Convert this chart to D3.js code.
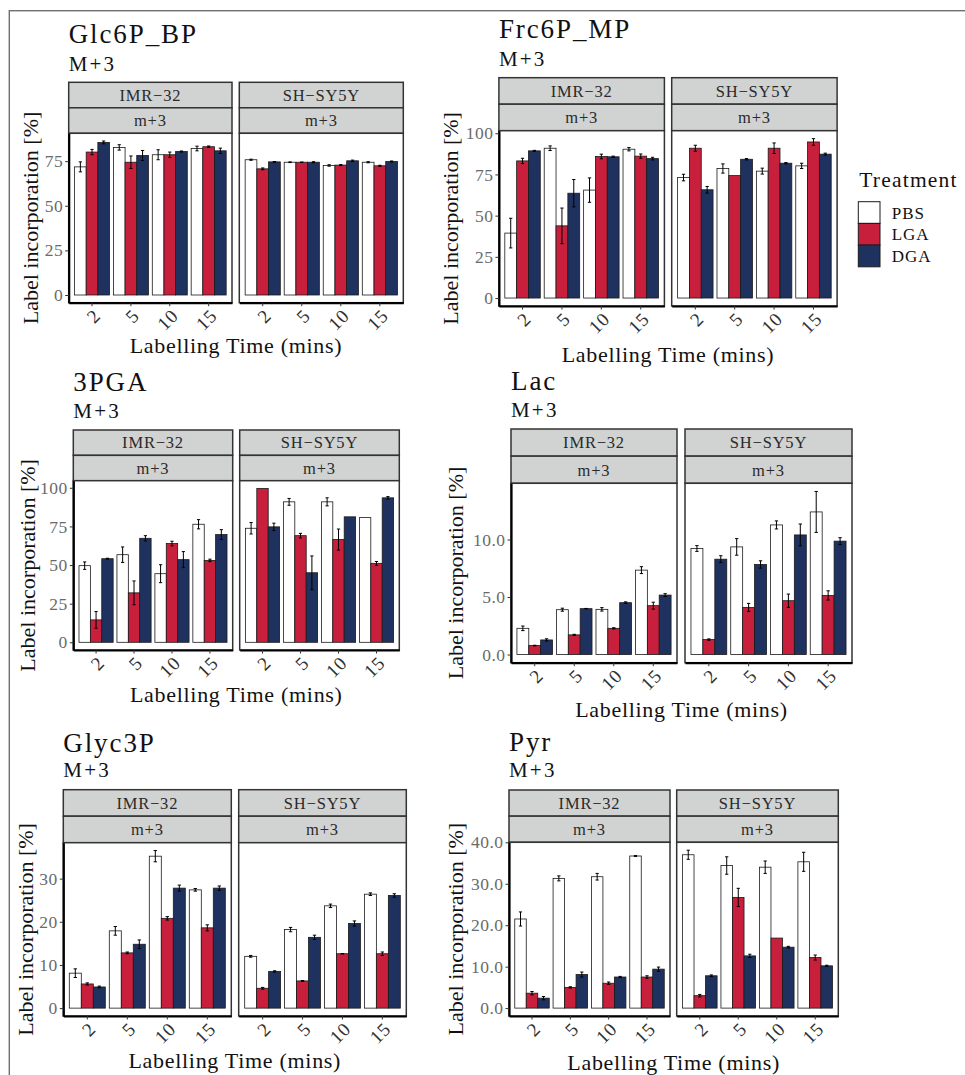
<!DOCTYPE html>
<html>
<head>
<meta charset="utf-8">
<script src="https://cdn.jsdelivr.net/npm/d3@7"></script>
<style>
  html, body { margin: 0; padding: 0; background: #fff; }
  svg { display: block; font-family: "Liberation Serif", "Times New Roman", serif; }
</style>
</head>
<body>
<svg id="fig" width="965" height="1075"></svg>
<script>
// ---------------- data ----------------
const times = ["2", "5", "10", "15"];
const cellLines = ["IMR\u221232", "SH\u2212SY5Y"];
const treatments = ["PBS", "LGA", "DGA"];
const isotopologue = "M+3";
const massLabel = "m+3";
const xAxisTitle = "Labelling Time (mins)";
const yAxisTitle = "Label incorporation [%]";
const legendTitle = "Treatment";

// values are [cell line][labelling time][treatment]
const glc6pMeans = [
  [[71.8, 80.1, 85.5], [82.7, 74.4, 78.2], [78.6, 78.6, 80.4], [82.1, 83.1, 80.8]],
  [[75.8, 70.7, 74.6], [74.4, 74.4, 74.4], [72.6, 72.8, 75.2], [74.4, 72.4, 74.8]]
];
const glc6pErr = [
  [[2.8, 1.5, 0.8], [1.5, 3.5, 2.8], [2.8, 1.5, 0.3], [1.3, 0.4, 1.5]],
  [[0.3, 0.5, 0.2], [0.2, 0.1, 0.3], [0.4, 0.3, 0.4], [0.3, 0.3, 0.3]]
];
const glc6pTicks = [0, 25, 50, 75];
const glc6pTickLabels = ["0", "25", "50", "75"];

const frc6pMeans = [
  [[39.4, 83.2, 89.3], [90.9, 43.8, 63.6], [65.5, 85.9, 85.7], [90.3, 86.1, 84.6]],
  [[73.1, 90.9, 65.7], [78.6, 74.3, 84.2], [77.0, 90.9, 81.8], [80.2, 94.7, 87.3]]
];
const frc6pErr = [
  [[9.0, 1.6, 0.3], [1.4, 10.8, 8.3], [7.4, 1.4, 0.4], [1.0, 1.3, 0.8]],
  [[2.0, 1.8, 2.0], [2.8, 0, 0.4], [1.8, 3.2, 0.4], [1.6, 2.0, 0.6]]
];
const frc6pTicks = [0, 25, 50, 75, 100];
const frc6pTickLabels = ["0", "25", "50", "75", "100"];

const pgaMeans = [
  [[49.6, 14.5, 54.1], [56.7, 32.0, 67.3], [44.4, 63.9, 53.5], [76.4, 53.0, 69.7]],
  [[73.8, 99.6, 74.7], [90.9, 69.0, 45.0], [90.9, 66.5, 81.2], [80.7, 51.1, 93.5]]
];
const pgaErr = [
  [[2.4, 5.4, 0.3], [5.0, 7.7, 1.7], [5.8, 1.5, 5.2], [3.0, 0.8, 3.2]],
  [[3.7, 0, 2.4], [2.2, 1.5, 10.9], [2.6, 6.8, 0], [0, 1.2, 0.8]]
];
const pgaTicks = [0, 25, 50, 75, 100];
const pgaTickLabels = ["0", "25", "50", "75", "100"];

const lacMeans = [
  [[2.28, 0.78, 1.27], [3.90, 1.71, 3.99], [3.93, 2.28, 4.51], [7.34, 4.25, 5.17]],
  [[9.22, 1.30, 8.29], [9.36, 4.10, 7.83], [11.27, 4.68, 10.40], [12.40, 5.14, 9.86]]
];
const lacErr = [
  [[0.20, 0.03, 0.10], [0.13, 0.05, 0.02], [0.15, 0.05, 0.07], [0.30, 0.30, 0.12]],
  [[0.25, 0.06, 0.30], [0.72, 0.35, 0.32], [0.35, 0.58, 0.95], [1.78, 0.40, 0.30]]
];
const lacTicks = [0, 5, 10];
const lacTickLabels = ["0.0", "5.0", "10.0"];

const glyc3pMeans = [
  [[8.1, 5.6, 4.9], [17.9, 12.8, 14.8], [35.2, 20.8, 27.8], [27.4, 18.6, 27.8]],
  [[12.0, 4.6, 8.5], [18.2, 6.3, 16.4], [23.7, 12.6, 19.6], [26.4, 12.6, 26.1]]
];
const glyc3pErr = [
  [[1.0, 0.25, 0.2], [1.0, 0.2, 1.0], [1.3, 0.4, 0.7], [0.3, 0.7, 0.5]],
  [[0.2, 0.2, 0.15], [0.5, 0.1, 0.5], [0.4, 0.05, 0.6], [0.3, 0.4, 0.4]]
];
const glyc3pTicks = [0, 10, 20, 30];
const glyc3pTickLabels = ["0", "10", "20", "30"];

const pyrMeans = [
  [[21.5, 3.6, 2.4], [31.3, 5.0, 8.1], [31.7, 6.0, 7.5], [36.7, 7.5, 9.4]],
  [[37.0, 3.0, 7.8], [34.4, 26.7, 12.6], [34.0, 16.9, 14.7], [35.3, 12.2, 10.2]]
];
const pyrErr = [
  [[1.7, 0.4, 0.4], [0.6, 0.15, 0.6], [0.8, 0.3, 0.15], [0.1, 0.3, 0.5]],
  [[1.1, 0.3, 0.2], [2.1, 2.2, 0.4], [1.5, 0, 0.2], [2.3, 0.6, 0.15]]
];
const pyrTicks = [0, 10, 20, 30, 40];
const pyrTickLabels = ["0.0", "10.0", "20.0", "30.0", "40.0"];

// ---------------- styling ----------------
const fillColors = ["#ffffff", "#c8203c", "#1f325f"];
const stripFill = "#d1d3d2";
const frameColor = "#6f6f6f";

const plots = [
  { name: "Glc6P_BP", means: glc6pMeans, err: glc6pErr, ticks: glc6pTicks, tickLabels: glc6pTickLabels,
    box: { titleY: 43, subY: 71, stripTop: 82.3, panelTop: 133.3, panelBottom: 302.7,
           panels: [[68.7, 232], [239.3, 403.3]], xTitleY: 353, yTitleX: 38 } },
  { name: "Frc6P_MP", means: frc6pMeans, err: frc6pErr, ticks: frc6pTicks, tickLabels: frc6pTickLabels,
    box: { titleY: 38.3, subY: 66, stripTop: 77.7, panelTop: 130.7, panelBottom: 306,
           panels: [[498.9, 664.4], [671.7, 837.1]], xTitleY: 361.7, yTitleX: 458 } },
  { name: "3PGA", means: pgaMeans, err: pgaErr, ticks: pgaTicks, tickLabels: pgaTickLabels,
    box: { titleY: 391, subY: 418.3, stripTop: 430, panelTop: 480.7, panelBottom: 650,
           panels: [[73.3, 232.7], [239.7, 399.3]], xTitleY: 701.7, yTitleX: 35 } },
  { name: "Lac", means: lacMeans, err: lacErr, ticks: lacTicks, tickLabels: lacTickLabels,
    box: { titleY: 389.5, subY: 416.7, stripTop: 429, panelTop: 483.3, panelBottom: 662.7,
           panels: [[511, 677], [685, 852]], xTitleY: 716.7, yTitleX: 463 } },
  { name: "Glyc3P", means: glyc3pMeans, err: glyc3pErr, ticks: glyc3pTicks, tickLabels: glyc3pTickLabels,
    box: { titleY: 751.7, subY: 777.3, stripTop: 789.7, panelTop: 842.7, panelBottom: 1016,
           panels: [[63.3, 231.3], [238.7, 406.3]], xTitleY: 1068.3, yTitleX: 33 } },
  { name: "Pyr", means: pyrMeans, err: pyrErr, ticks: pyrTicks, tickLabels: pyrTickLabels,
    box: { titleY: 750.5, subY: 777.3, stripTop: 790, panelTop: 842.3, panelBottom: 1016,
           panels: [[509, 670], [676.7, 838.3]], xTitleY: 1070, yTitleX: 463 } }
];

const svg = d3.select("#fig");

// outer frame
svg.append("rect")
  .attr("x", 9.3).attr("y", 10.7).attr("width", 1000).attr("height", 1100)
  .attr("fill", "none").attr("stroke", frameColor).attr("stroke-width", 1.4);

function drawPlot(p) {
  const b = p.box;
  const g = svg.append("g").attr("class", "plot");

  // y range: bars from 0 up to mean + error, padded by 5% as usual
  const top = d3.max(p.means.flatMap((c, ci) => c.flatMap((t, ti) => t.map((v, k) => v + p.err[ci][ti][k]))));
  const y = d3.scaleLinear().domain([-0.05 * top, 1.05 * top]).range([b.panelBottom, b.panelTop]);

  // titles
  g.append("text").attr("x", b.panels[0][0]).attr("y", b.titleY)
    .attr("font-size", 27).attr("letter-spacing", "1.9px").attr("fill", "#111").text(p.name);
  g.append("text").attr("x", b.panels[0][0]).attr("y", b.subY)
    .attr("font-size", 21).attr("letter-spacing", "2.2px").attr("fill", "#111").text(isotopologue);

  const stripH = (b.panelTop - b.stripTop) / 2;

  cellLines.forEach((cl, ci) => {
    const [x0, x1] = b.panels[ci];
    const panel = g.append("g");

    // facet strips
    [cl, massLabel].forEach((lab, si) => {
      const sy = b.stripTop + si * stripH;
      panel.append("rect").attr("x", x0).attr("y", sy).attr("width", x1 - x0).attr("height", stripH)
        .attr("fill", stripFill).attr("stroke", "#333").attr("stroke-width", 1.5);
      panel.append("text").attr("x", (x0 + x1) / 2).attr("y", sy + stripH / 2)
        .attr("dy", "0.35em").attr("text-anchor", "middle")
        .attr("font-size", 16.5).attr("letter-spacing", "0.8px").attr("fill", "#2a2a2a").text(lab);
    });

    // panel background / border
    panel.append("rect").attr("x", x0).attr("y", b.panelTop).attr("width", x1 - x0)
      .attr("height", b.panelBottom - b.panelTop)
      .attr("fill", "#fff").attr("stroke", "#333").attr("stroke-width", 1.5);

    const x = d3.scaleBand().domain(times).range([x0, x1]).paddingInner(0.1).paddingOuter(0.15);
    const xs = d3.scaleBand().domain(treatments).range([0, x.bandwidth()]);

    const rows = [];
    times.forEach((t, ti) => treatments.forEach((tr, k) => {
      rows.push({ t, tr, k, v: p.means[ci][ti][k], e: p.err[ci][ti][k] });
    }));

    panel.selectAll("rect.bar").data(rows).join("rect").attr("class", "bar")
      .attr("x", d => x(d.t) + xs(d.tr))
      .attr("y", d => y(d.v))
      .attr("width", xs.bandwidth())
      .attr("height", d => y(0) - y(d.v))
      .attr("fill", d => fillColors[d.k])
      .attr("stroke", "#1a1a1a").attr("stroke-width", 0.8);

    // error bars
    const capHalf = xs.bandwidth() * 0.14;
    const eb = panel.selectAll("g.err").data(rows.filter(d => d.e > 0)).join("g").attr("class", "err")
      .attr("stroke", "#000").attr("stroke-width", 1);
    eb.append("line")
      .attr("x1", d => x(d.t) + xs(d.tr) + xs.bandwidth() / 2)
      .attr("x2", d => x(d.t) + xs(d.tr) + xs.bandwidth() / 2)
      .attr("y1", d => y(d.v - d.e)).attr("y2", d => y(d.v + d.e));
    [-1, 1].forEach(s => {
      eb.append("line")
        .attr("x1", d => x(d.t) + xs(d.tr) + xs.bandwidth() / 2 - capHalf)
        .attr("x2", d => x(d.t) + xs(d.tr) + xs.bandwidth() / 2 + capHalf)
        .attr("y1", d => y(d.v + s * d.e)).attr("y2", d => y(d.v + s * d.e));
    });

    // x axis
    const xa = panel.append("g").attr("transform", `translate(0,${b.panelBottom})`)
      .call(d3.axisBottom(x).tickSize(3.5).tickSizeOuter(0));
    xa.select(".domain").attr("stroke", "#000").attr("stroke-width", 2.2);
    xa.selectAll(".tick line").attr("stroke", "#333").attr("stroke-width", 1);
    xa.selectAll(".tick text")
      .attr("x", 0).attr("y", 0).attr("dy", "0.35em")
      .attr("text-anchor", "end")
      .attr("transform", "translate(5,9.5) rotate(-45)")
      .attr("font-family", "Liberation Serif").attr("font-size", 19)
      .attr("letter-spacing", "0.8px").attr("fill", "#303030");

    // y axis on the first panel only
    if (ci === 0) {
      const ya = panel.append("g").attr("transform", `translate(${x0},0)`)
        .call(d3.axisLeft(y).tickValues(p.ticks).tickFormat((d, i) => p.tickLabels[i])
          .tickSize(3.5).tickSizeOuter(0).tickPadding(2));
      ya.select(".domain").attr("stroke", "#000").attr("stroke-width", 2.2);
      ya.selectAll(".tick line").attr("stroke", "#333").attr("stroke-width", 1);
      ya.selectAll(".tick text")
        .attr("font-family", "Liberation Serif").attr("font-size", 17.5)
        .attr("letter-spacing", "0.5px").attr("fill", "#6a6a6a");
    }
  });

  // axis titles
  const xl = b.panels[0][0], xr = b.panels[1][1];
  g.append("text").attr("x", (xl + xr) / 2).attr("y", b.xTitleY).attr("text-anchor", "middle")
    .attr("font-size", 22).attr("letter-spacing", "0.7px").attr("fill", "#111").text(xAxisTitle);
  g.append("text")
    .attr("transform", `translate(${b.yTitleX},${(b.panelTop + b.panelBottom) / 2}) rotate(-90)`)
    .attr("text-anchor", "middle")
    .attr("font-size", 22).attr("letter-spacing", "0px").attr("fill", "#111").text(yAxisTitle);
}

plots.forEach(drawPlot);

// legend
const leg = svg.append("g");
leg.append("text").attr("x", 859.3).attr("y", 186.7)
  .attr("font-size", 21.5).attr("letter-spacing", "1.2px").attr("fill", "#111").text(legendTitle);
const keyH = 21.7, keyW = 21.7, keyTop = 201.7;
treatments.forEach((tr, k) => {
  leg.append("rect").attr("x", 858.3).attr("y", keyTop + k * keyH).attr("width", keyW).attr("height", keyH)
    .attr("fill", fillColors[k]).attr("stroke", "#1a1a1a").attr("stroke-width", 1);
  leg.append("text").attr("x", 891.7).attr("y", keyTop + k * keyH + keyH / 2).attr("dy", "0.35em")
    .attr("font-size", 17).attr("letter-spacing", "1px").attr("fill", "#111").text(tr);
});
</script>
</body>
</html>
